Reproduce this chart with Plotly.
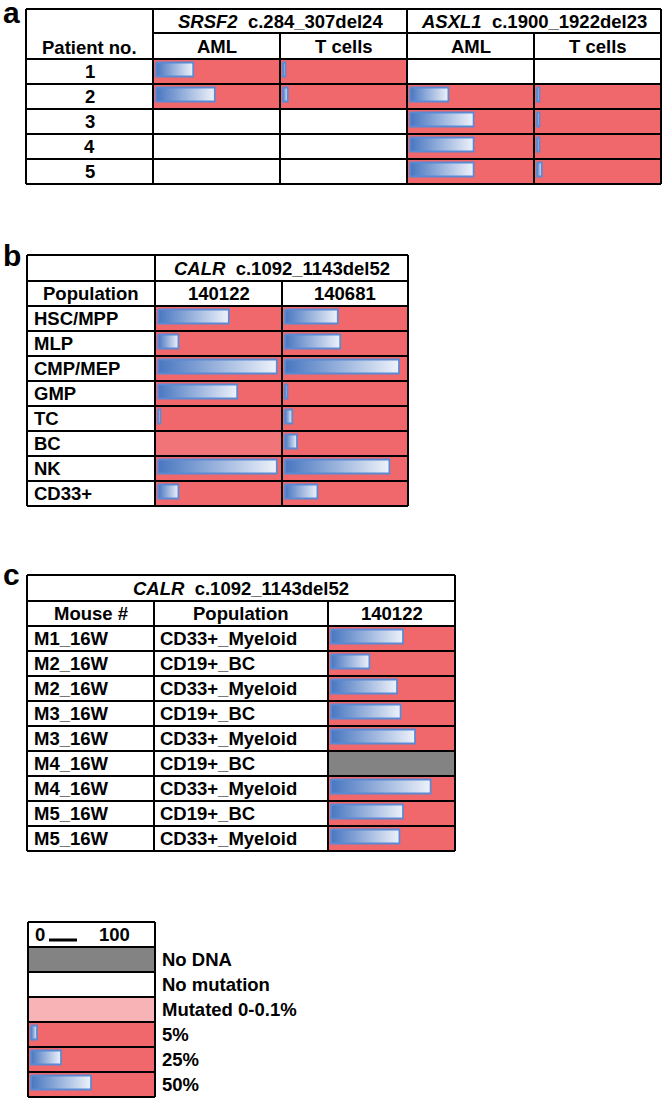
import plotly.graph_objects as go

# ---------------- data ----------------
# None = no mutation (white), "ND" = no DNA (grey), 0 = mutated <0.1% (no bar), number = VAF %
patients = ["1", "2", "3", "4", "5"]
srsf2_aml = [31, 49, None, None, None]
srsf2_t = [2, 4, None, None, None]
asxl1_aml = [None, 32, 53, 53, 53]
asxl1_t = [None, 2, 2, 2, 4]

populations_b = ["HSC/MPP", "MLP", "CMP/MEP", "GMP", "TC", "BC", "NK", "CD33+"]
calr_140122 = [59, 17, 99, 66, 2, 0, 99, 17]
calr_140681 = [44, 46, 95, 2, 6, 10, 87, 27]

mice_c = ["M1_16W", "M2_16W", "M2_16W", "M3_16W", "M3_16W", "M4_16W", "M4_16W", "M5_16W", "M5_16W"]
populations_c = ["CD33+_Myeloid", "CD19+_BC", "CD33+_Myeloid", "CD19+_BC", "CD33+_Myeloid",
                 "CD19+_BC", "CD33+_Myeloid", "CD19+_BC", "CD33+_Myeloid"]
mouse_140122 = [60, 32, 55, 58, 70, "ND", 83, 60, 57]

legend_labels = ["No DNA", "No mutation", "Mutated 0-0.1%", "5%", "25%", "50%"]
legend_values = ["ND", None, "LOW", 5, 25, 50]

# ---------------- style ----------------
RED = "#f0676c"
RED_LOW = "#f17479"
PINK = "#f7b3b5"
GREY = "#838383"
WHITE = "#ffffff"
BAR_LINE = "#5b8ad4"
GRAD = [[0, "#4876c0"], [1, "#eef2fa"]]
FONT = dict(family="Liberation Sans, Arial, sans-serif", size=18.5, color="black", weight="bold")
LW = 2
ROW = 25
PX_PER_PCT = 1.2

fig = go.Figure()
shapes = []
annotations = []


def rect(x0, x1, y0, y1, color):
    shapes.append(dict(type="rect", xref="x", yref="y", x0=x0, x1=x1, y0=y0, y1=y1,
                       fillcolor=color, line=dict(width=0), layer="below"))


def hline(y, x0, x1, w=LW):
    shapes.append(dict(type="line", xref="x", yref="y", x0=x0, x1=x1, y0=y, y1=y,
                       line=dict(color="black", width=w)))


def vline(x, y0, y1, w=LW):
    shapes.append(dict(type="line", xref="x", yref="y", x0=x, x1=x, y0=y0, y1=y1,
                       line=dict(color="black", width=w)))


def text(t, x, y, anchor="center", size=None):
    f = dict(FONT)
    if size:
        f["size"] = size
    annotations.append(dict(text=t, x=x, y=y, xref="x", yref="y", showarrow=False,
                            xanchor=anchor, yanchor="middle", font=f))


def bar(x0, ytop, v):
    L = max(v * PX_PER_PCT, 2)
    bx0, bx1 = x0 + 3, x0 + 3 + L
    by0, by1 = ytop + 3.5, ytop + 17.5
    fig.add_trace(go.Scatter(
        x=[bx0, bx1, bx1, bx0, bx0], y=[by0, by0, by1, by1, by0],
        mode="lines", fill="toself",
        fillgradient=dict(type="horizontal", colorscale=GRAD),
        line=dict(color=BAR_LINE, width=1.8), hoverinfo="skip", showlegend=False))


def cell(x0, x1, ytop, v):
    if v is None:
        rect(x0, x1, ytop, ytop + ROW, WHITE)
    elif v == "ND":
        rect(x0, x1, ytop, ytop + ROW, GREY)
    elif v == "LOW":
        rect(x0, x1, ytop, ytop + ROW, PINK)
    elif v == 0:
        rect(x0, x1, ytop, ytop + ROW, RED_LOW)
    else:
        rect(x0, x1, ytop, ytop + ROW, RED)
        bar(x0, ytop, v)


# ---------------- panel a ----------------
ax = [26, 153, 280, 407, 534, 661]
a_top, a_mid, a_hdr = 9, 33, 59
a_rows = [a_hdr + ROW * i for i in range(len(patients) + 1)]
cols_a = [srsf2_aml, srsf2_t, asxl1_aml, asxl1_t]
for i, p in enumerate(patients):
    yt = a_rows[i]
    for j, col in enumerate(cols_a):
        cell(ax[j + 1], ax[j + 2], yt, col[i])
    text(p, (ax[0] + ax[1]) / 2, yt + ROW / 2)
text("Patient no.", (ax[0] + ax[1]) / 2, 47)
text("<i>SRSF2</i>\u00a0 c.284_307del24", (ax[1] + ax[3]) / 2, (a_top + a_mid) / 2)
text("<i>ASXL1</i>\u00a0 c.1900_1922del23", (ax[3] + ax[5]) / 2, (a_top + a_mid) / 2)
for j, lab in enumerate(["AML", "T cells", "AML", "T cells"]):
    text(lab, (ax[j + 1] + ax[j + 2]) / 2, (a_mid + a_hdr) / 2)
hline(a_top, ax[0], ax[-1])
hline(a_mid, ax[1], ax[-1])
for y in a_rows:
    hline(y, ax[0], ax[-1])
for x in [ax[0], ax[1], ax[3], ax[5]]:
    vline(x, a_top, a_rows[-1])
for x in [ax[2], ax[4]]:
    vline(x, a_mid, a_rows[-1])
text("a", 1, 12, anchor="left", size=30)

# ---------------- panel b ----------------
bx = [27, 155, 282, 408]
b_top, b_mid, b_hdr = 255, 281, 306
b_rows = [b_hdr + ROW * i for i in range(len(populations_b) + 1)]
for i, p in enumerate(populations_b):
    yt = b_rows[i]
    cell(bx[1], bx[2], yt, calr_140122[i])
    cell(bx[2], bx[3], yt, calr_140681[i])
    text(p, bx[0] + 5, yt + ROW / 2, anchor="left")
text("<i>CALR</i>\u00a0 c.1092_1143del52", (bx[1] + bx[3]) / 2, (b_top + b_mid) / 2)
text("Population", (bx[0] + bx[1]) / 2, (b_mid + b_hdr) / 2)
text("140122", (bx[1] + bx[2]) / 2, (b_mid + b_hdr) / 2)
text("140681", (bx[2] + bx[3]) / 2, (b_mid + b_hdr) / 2)
for y in [b_top, b_mid] + b_rows:
    hline(y, bx[0], bx[-1])
for x in [bx[0], bx[1], bx[3]]:
    vline(x, b_top, b_rows[-1])
vline(bx[2], b_mid, b_rows[-1])
text("b", 1, 255, anchor="left", size=30)

# ---------------- panel c ----------------
cx = [27, 154, 328, 455]
c_top, c_mid, c_hdr = 575, 601, 626
c_rows = [c_hdr + ROW * i for i in range(len(mice_c) + 1)]
for i in range(len(mice_c)):
    yt = c_rows[i]
    cell(cx[2], cx[3], yt, mouse_140122[i])
    text(mice_c[i], cx[0] + 5, yt + ROW / 2, anchor="left")
    text(populations_c[i], cx[1] + 4, yt + ROW / 2, anchor="left")
text("<i>CALR</i>\u00a0 c.1092_1143del52", (cx[0] + cx[3]) / 2, (c_top + c_mid) / 2)
text("Mouse #", (cx[0] + cx[1]) / 2, (c_mid + c_hdr) / 2)
text("Population", (cx[1] + cx[2]) / 2, (c_mid + c_hdr) / 2)
text("140122", (cx[2] + cx[3]) / 2, (c_mid + c_hdr) / 2)
for y in [c_top, c_mid] + c_rows:
    hline(y, cx[0], cx[-1])
for x in [cx[0], cx[3]]:
    vline(x, c_top, c_rows[-1])
for x in [cx[1], cx[2]]:
    vline(x, c_mid, c_rows[-1])
text("c", 1, 574, anchor="left", size=30)

# ---------------- legend ----------------
lx = [28, 155]
l_top = 922
l_rows = [l_top + ROW * i for i in range(len(legend_labels) + 2)]
text("0", lx[0] + 5, l_top + ROW / 2 - 0.5, anchor="left")
shapes.append(dict(type="line", xref="x", yref="y", x0=49, x1=77, y0=940, y1=940,
                   line=dict(color="black", width=3)))
text("100", 97, l_top + ROW / 2 - 0.5, anchor="left")
for i, (lab, v) in enumerate(zip(legend_labels, legend_values)):
    yt = l_rows[i + 1]
    cell(lx[0], lx[1], yt, v)
    text(lab, lx[1] + 5, yt + ROW / 2, anchor="left")
for y in l_rows:
    hline(y, lx[0], lx[1])
for x in lx:
    vline(x, l_rows[0], l_rows[-1])

fig.update_layout(
    width=662, height=1099,
    margin=dict(l=0, r=0, t=0, b=0),
    paper_bgcolor="white", plot_bgcolor="white",
    xaxis=dict(range=[0, 662], visible=False, fixedrange=True),
    yaxis=dict(range=[1099, 0], visible=False, fixedrange=True),
    shapes=shapes, annotations=annotations, showlegend=False,
)
fig.write_html(
    "out.html",
    config={"responsive": False, "displayModeBar": False},
    post_script="document.body.style.margin='0';document.body.style.overflow='hidden';",
)
